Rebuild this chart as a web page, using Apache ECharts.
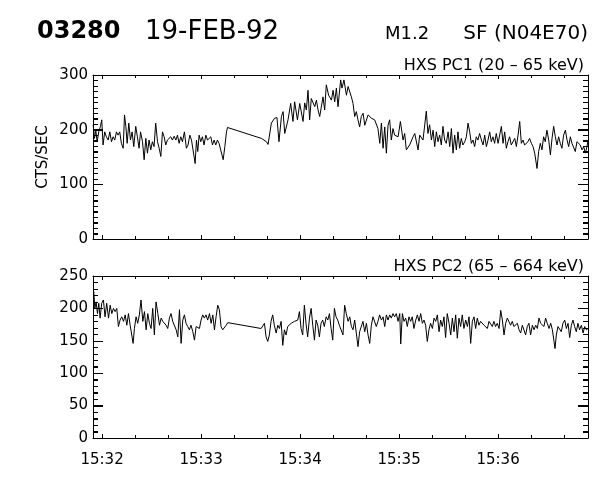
<!DOCTYPE html>
<html><head><meta charset="utf-8">
<script src="https://cdn.jsdelivr.net/npm/echarts@6/dist/echarts.min.js"></script>
<style>html,body{margin:0;padding:0;background:#fff}#c{width:600px;height:480px}</style>
</head><body><div id="c"></div><script>
// time in seconds after 15:32:00 UT
const pc1Times = [-5.4,-4.6,-3.8,-3.0,-2.0,-1.0,-0.2,0.6,1.6,2.6,3.7,4.7,5.7,6.7,7.7,8.7,9.7,10.7,11.7,12.8,13.6,14.4,15.2,16.2,17.2,18.2,19.2,20.4,21.4,22.4,23.3,24.5,25.5,26.5,27.5,28.5,29.5,30.5,31.5,32.5,33.6,34.6,35.6,36.6,37.6,38.6,39.6,40.6,41.6,42.6,43.7,44.7,45.7,46.7,47.7,48.7,49.9,51.1,52.1,53.2,54.2,55.2,56.4,57.2,58.0,58.8,59.8,60.8,61.8,62.9,63.9,64.9,65.9,66.9,67.9,68.9,69.9,70.9,71.9,73.4,74.4,75.4,76.0,
96.6,99.6,100.6,102.6,104.6,106.0,107.2,108.7,109.7,110.7,112.7,114.3,115.7,116.7,118.4,119.8,121.8,122.8,123.8,124.8,125.8,126.8,128.9,129.9,130.9,131.9,133.9,134.9,135.9,137.3,139.0,140.0,141.0,142.0,143.0,144.6,145.4,146.6,148.1,149.1,151.1,152.1,153.1,154.1,155.1,156.1,157.1,158.2,159.2,161.2,163.2,165.2,167.2,168.3,169.3,170.3,171.3,172.3,173.3,174.3,175.3,176.3,177.3,178.4,179.4,180.8,182.4,183.4,184.4,186.4,188.5,189.5,191.5,192.5,194.5,
196.5,197.5,198.5,199.6,200.6,201.6,202.6,203.6,204.6,205.6,206.6,207.6,208.6,209.7,210.7,211.7,212.7,213.7,214.7,215.7,216.7,217.7,218.7,219.8,220.8,221.8,222.8,223.8,224.8,225.8,226.8,227.8,228.8,229.9,230.9,231.9,232.9,233.9,234.9,235.9,236.9,237.9,238.9,240.0,241.0,242.0,243.0,244.0,245.0,246.0,247.0,248.0,249.0,250.1,251.1,252.1,253.1,254.1,255.1,256.1,257.1,258.1,259.1,260.2,261.2,262.2,263.6,264.6,265.6,266.6,267.6,268.6,269.6,270.7,271.7,272.7,273.7,274.7,275.7,276.7,277.7,278.7,279.7,280.8,281.8,282.8,283.8,284.8,285.8,286.8,287.8,288.8,289.8,290.9,291.9,292.9,293.9,294.5];
const pc1Values = [209,184,199,178,196,206,218,172,196,187,181,196,178,187,181,196,190,196,175,166,227,206,175,212,181,196,169,206,187,166,196,178,145,184,157,181,163,178,169,212,178,166,151,196,187,172,181,178,187,181,188,181,190,175,187,178,196,166,172,190,181,178,138,181,160,190,178,187,172,190,181,178,187,172,181,172,181,175,172,145,169,196,204,
184,178,173,212,221,222,178,224,233,193,218,248,215,251,218,248,215,249,236,272,218,257,242,254,236,224,260,236,282,263,254,272,251,276,242,291,276,291,263,279,260,248,224,233,218,205,224,230,208,227,221,218,202,175,212,166,205,157,208,218,181,202,190,193,187,215,181,193,163,172,187,193,163,190,181,
234,193,209,181,199,169,196,178,190,172,206,181,175,196,169,202,157,190,163,196,166,184,172,178,187,212,196,175,181,169,187,181,193,181,172,190,169,181,196,178,187,175,193,175,178,206,175,196,166,178,187,172,175,184,169,190,215,175,181,172,175,178,184,175,169,157,129,160,175,163,187,178,199,181,154,184,206,187,172,187,175,166,190,199,181,169,187,175,172,160,178,181,172,163,169,157,169,181];
const pc2Times = [-5.0,-4.4,-3.6,-2.8,-2.0,-1.2,-0.2,0.8,1.8,2.8,3.9,4.9,5.9,6.9,7.9,8.9,9.9,10.9,11.9,13.0,14.0,15.0,16.0,17.0,18.0,18.8,19.6,20.6,21.6,22.6,23.6,24.7,25.7,26.7,27.7,28.7,29.7,30.7,31.7,32.7,33.8,34.8,35.8,36.8,37.8,38.8,39.8,40.8,41.8,42.8,43.8,44.9,45.9,46.9,47.9,48.9,49.9,50.9,51.9,52.9,53.9,55.0,56.0,57.0,58.0,59.0,60.0,61.0,62.0,63.0,64.0,65.1,66.1,67.1,68.1,69.1,70.1,71.1,72.1,73.1,74.1,75.2,76.2,
96.4,97.4,98.4,99.4,100.4,101.4,102.4,103.4,104.4,105.5,106.5,107.5,108.5,109.5,110.5,111.5,112.5,113.5,114.6,115.6,116.6,117.6,118.6,119.6,120.6,121.6,122.6,123.6,124.6,125.7,126.7,127.7,128.7,129.7,130.7,131.7,132.7,133.7,134.7,135.8,136.8,137.8,138.8,139.8,140.8,141.8,142.8,143.8,144.8,
146.0,147.0,148.0,149.1,150.1,151.1,152.1,153.1,154.1,155.1,156.1,157.1,158.1,159.2,160.2,161.2,162.2,163.2,164.2,165.2,166.2,167.2,168.2,169.3,170.3,171.3,172.3,173.3,174.3,175.3,176.3,177.3,178.3,179.4,180.4,181.0,182.0,183.0,184.0,185.0,186.0,187.0,188.0,189.0,190.1,191.1,192.1,193.1,194.1,195.1,196.1,197.1,198.1,199.1,200.2,201.2,202.2,203.2,204.2,205.2,206.2,207.2,208.2,209.2,210.3,211.3,212.3,213.3,214.3,215.3,216.3,217.3,218.3,219.3,220.4,221.4,222.4,223.4,224.4,225.4,226.4,227.4,228.4,229.4,230.5,231.5,232.5,233.5,234.5,235.5,236.5,237.5,238.5,239.5,240.6,241.6,242.6,243.6,244.6,245.6,246.6,247.6,248.6,249.6,250.7,251.7,252.7,253.7,254.7,255.7,256.7,257.7,258.7,259.7,260.8,261.8,262.8,263.8,264.8,265.8,266.8,267.8,268.8,269.8,270.9,271.9,272.9,273.9,274.5,275.3,276.3,277.3,278.3,279.3,280.4,281.4,282.4,283.4,284.4,285.4,286.4,287.4,288.4,289.4,290.5,291.5,292.5,293.5,294.5];
const pc2Values = [226,200,210,192,208,185,208,213,187,208,185,205,192,200,195,200,172,182,187,180,190,174,192,174,159,146,169,187,177,190,213,180,195,167,192,177,169,200,159,210,192,174,185,180,177,174,169,185,192,180,177,167,156,198,146,182,190,177,172,167,174,164,151,172,174,169,182,190,185,190,182,192,177,190,167,187,205,198,172,167,164,174,178,
169,172,177,156,149,159,180,190,174,162,174,169,180,143,167,159,172,169,177,178,180,177,182,195,169,159,205,177,156,185,200,174,151,182,174,156,177,182,172,187,182,192,169,151,200,187,182,174,177,
159,205,192,180,187,172,167,182,185,141,164,162,180,164,177,159,146,174,187,185,172,180,190,182,187,172,190,182,190,185,192,187,192,180,192,145,192,180,185,172,187,180,187,169,182,190,180,192,177,182,174,149,167,177,169,185,180,190,164,182,172,187,155,192,177,159,185,164,190,154,185,172,190,169,182,172,187,146,180,187,169,185,174,180,177,174,172,169,180,177,172,180,172,177,169,197,182,159,177,185,182,174,180,172,169,177,167,162,174,172,159,172,177,159,174,167,174,169,185,177,180,172,185,177,169,177,167,164,138,159,172,174,164,177,182,169,177,155,174,182,172,164,177,167,174,162,172,167,169];
const minuteTicks = [0,60,120,180,240];
const minuteLabels = ['15:32','15:33','15:34','15:35','15:36'];
const secondTicks = [0,20,40,60,80,100,120,140,160,180,200,220,240,260,280];
const pc1YTicks = [0,100,200,300];
const pc2YTicks = [0,50,100,150,200,250];
const titleLeft = '03280', titleDate = '19-FEB-92', titleClass = 'M1.2', titleLoc = 'SF (N04E70)';
const pc1Title = 'HXS PC1 (20 \u2013 65 keV)', pc2Title = 'HXS PC2 (65 \u2013 664 keV)';
const yName = 'CTS/SEC';

const FONT = 'DejaVu Sans';
const BLACK = '#000';
const T0 = -5.5, T1 = 294.5;

function xA(g, pos, labels) {
  return {type:'value', gridIndex:g, min:T0, max:T1, position:pos,
    axisLine:{show:true, onZero:false, lineStyle:{color:BLACK, width:1}},
    axisTick:{show:true, inside:true, length:3, customValues:secondTicks, lineStyle:{color:BLACK, width:1}},
    axisLabel:{show:labels, customValues:minuteTicks, color:BLACK, fontSize:15, fontFamily:FONT, margin:15,
      formatter: v => minuteLabels[minuteTicks.indexOf(v)] || ''},
    splitLine:{show:false}};
}
function yA(g, ticks, minorSplit, pos) {
  return {type:'value', gridIndex:g, min:ticks[0], max:ticks[ticks.length-1], interval:ticks[1]-ticks[0], position:pos,
    axisLine:{show:true, onZero:false, lineStyle:{color:BLACK, width:1}},
    axisTick:{show:true, inside:true, length:10, lineStyle:{color:BLACK, width:1}},
    minorTick:{show:true, splitNumber:minorSplit, length:5, lineStyle:{color:BLACK, width:1}},
    splitLine:{show:false}, minorSplitLine:{show:false},
    axisLabel:{show:pos==='left', color:BLACK, fontSize:15, fontFamily:FONT, margin:5}};
}
const zip = (t, v) => t.map((x, i) => [x, v[i]]);

// inward frame ticks, positioned through the axes' own coordinate mapping
function tickSeries(xi, yi, yTicks, minorSplit) {
  return {type:'custom', xAxisIndex:xi, yAxisIndex:yi, silent:true, clip:false, z:5,
    data:[[0, 0]],
    renderItem: function (params, api) {
      const yMin = yTicks[0], yMax = yTicks[yTicks.length-1];
      const kids = [];
      const ln = (x1, y1, x2, y2) => kids.push({type:'line', shape:{x1:x1, y1:y1, x2:x2, y2:y2},
        style:{stroke:BLACK, lineWidth:1}});
      secondTicks.forEach(v => {
        const len = minuteTicks.indexOf(v) >= 0 ? 4 : 3;
        const b = api.coord([v, yMin]), t = api.coord([v, yMax]);
        const x = Math.round(b[0]) + 0.5;
        ln(x, b[1], x, b[1] - len);
        ln(x, t[1], x, t[1] + len);
      });
      const step = (yTicks[1] - yTicks[0]) / minorSplit;
      for (let k = 0; k <= (yMax - yMin) / step + 1e-9; k++) {
        const v = yMin + k * step;
        const major = Math.abs(v / (yTicks[1] - yTicks[0]) - Math.round(v / (yTicks[1] - yTicks[0]))) < 1e-6;
        const len = major ? 10 : 5;
        const l = api.coord([T0, v]), r = api.coord([T1, v]);
        const y = Math.round(l[1]) + 0.5;
        ln(l[0], y, l[0] + len, y);
        ln(r[0], y, r[0] - len, y);
      }
      return {type:'group', children:kids};
    }};
}

const chart = echarts.init(document.getElementById('c'));
chart.setOption({
  animation:false,
  backgroundColor:'#fff',
  grid:[
    {left:93, top:75, width:495, height:164},
    {left:93, top:276, width:495, height:162}
  ],
  xAxis:[xA(0,'bottom',false), xA(0,'top',false), xA(1,'bottom',true), xA(1,'top',false)],
  yAxis:[yA(0,pc1YTicks,10,'left'), yA(0,pc1YTicks,10,'right'), yA(1,pc2YTicks,5,'left'), yA(1,pc2YTicks,5,'right')],
  series:[
    {type:'line', xAxisIndex:0, yAxisIndex:0, data:zip(pc1Times, pc1Values), symbol:'none',
     lineStyle:{color:BLACK, width:1}},
    {type:'line', xAxisIndex:2, yAxisIndex:2, data:zip(pc2Times, pc2Values), symbol:'none',
     lineStyle:{color:BLACK, width:1}},
    tickSeries(0, 0, pc1YTicks, 10),
    tickSeries(2, 2, pc2YTicks, 5)
  ],
  graphic:[
    {type:'text', x:37, y:32, style:{text:titleLeft, font:'bold 24px "DejaVu Sans"', fill:BLACK, textVerticalAlign:'middle'}},
    {type:'text', x:145, y:32, style:{text:titleDate, font:'26px "DejaVu Sans"', fill:BLACK, textVerticalAlign:'middle'}},
    {type:'text', x:385, y:34, style:{text:titleClass, font:'18px "DejaVu Sans"', fill:BLACK, textVerticalAlign:'middle'}},
    {type:'text', x:588, y:34, style:{text:titleLoc, font:'20px "DejaVu Sans"', fill:BLACK, textAlign:'right', textVerticalAlign:'middle'}},
    {type:'text', x:584, y:66, style:{text:pc1Title, font:'16px "DejaVu Sans"', fill:BLACK, textAlign:'right', textVerticalAlign:'middle'}},
    {type:'text', x:584, y:267, style:{text:pc2Title, font:'16px "DejaVu Sans"', fill:BLACK, textAlign:'right', textVerticalAlign:'middle'}},
    {type:'text', x:43, y:157, rotation:Math.PI/2, style:{text:yName, font:'15px "DejaVu Sans"', fill:BLACK, textAlign:'center', textVerticalAlign:'middle'}}
  ]
});
chart.getZr().refreshImmediately();
</script></body></html>
